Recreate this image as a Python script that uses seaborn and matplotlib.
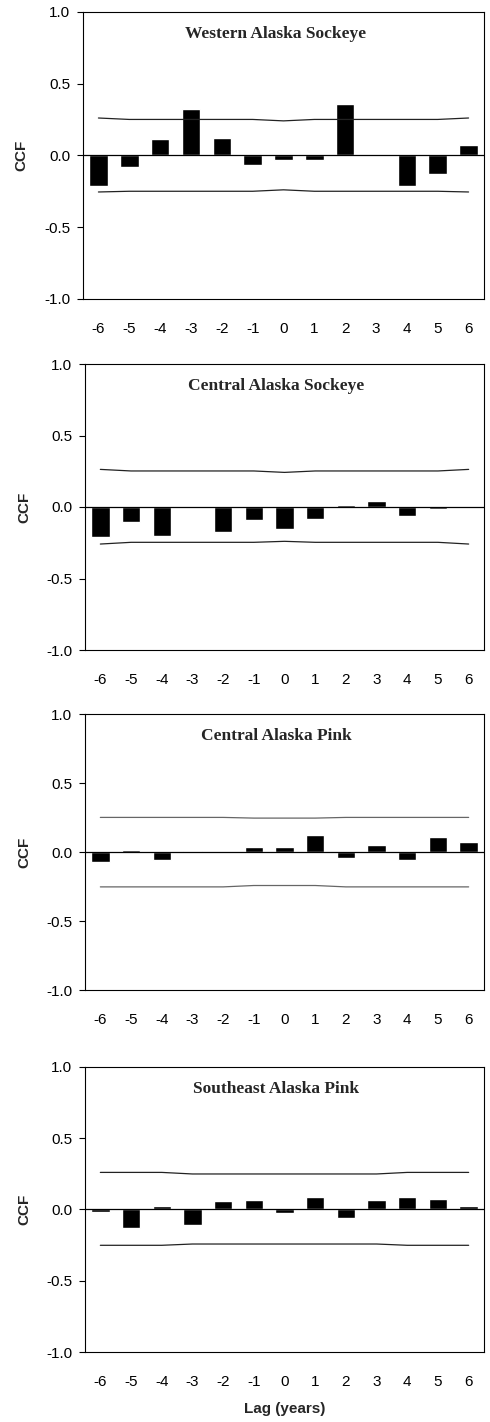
import numpy as np
import pandas as pd
import matplotlib
matplotlib.use("Agg")
import matplotlib.pyplot as plt
import seaborn as sns

lags = [-6, -5, -4, -3, -2, -1, 0, 1, 2, 3, 4, 5, 6]

titles = ["Western Alaska Sockeye", "Central Alaska Sockeye",
          "Central Alaska Pink", "Southeast Alaska Pink"]

ccf_western_sockeye = [-0.21, -0.08, 0.115, 0.32, 0.12, -0.065, -0.03, -0.03, 0.355, 0.0, -0.21, -0.13, 0.07]
ccf_central_sockeye = [-0.21, -0.105, -0.20, 0.0, -0.175, -0.09, -0.155, -0.085, 0.012, 0.04, -0.063, -0.012, 0.0]
ccf_central_pink = [-0.07, 0.017, -0.055, 0.01, 0.0, 0.039, 0.039, 0.125, -0.04, 0.053, -0.055, 0.11, 0.075]
ccf_southeast_pink = [-0.016, -0.128, 0.023, -0.11, 0.058, 0.065, -0.023, 0.086, -0.058, 0.065, 0.086, 0.072, 0.023]

upper_western_sockeye = [0.26, 0.25, 0.25, 0.25, 0.25, 0.25, 0.24, 0.25, 0.25, 0.25, 0.25, 0.25, 0.26]
lower_western_sockeye = [-0.255, -0.25, -0.25, -0.25, -0.25, -0.25, -0.24, -0.25, -0.25, -0.25, -0.25, -0.25, -0.255]
upper_central_sockeye = [0.263, 0.252, 0.252, 0.252, 0.252, 0.252, 0.242, 0.252, 0.252, 0.252, 0.252, 0.252, 0.263]
lower_central_sockeye = [-0.259, -0.247, -0.247, -0.247, -0.247, -0.247, -0.24, -0.247, -0.247, -0.247, -0.247, -0.247, -0.259]
upper_central_pink = [0.252, 0.252, 0.252, 0.252, 0.252, 0.247, 0.247, 0.247, 0.252, 0.252, 0.252, 0.252, 0.252]
lower_central_pink = [-0.252, -0.252, -0.252, -0.252, -0.252, -0.242, -0.242, -0.242, -0.252, -0.252, -0.252, -0.252, -0.252]
upper_southeast_pink = [0.259, 0.259, 0.259, 0.248, 0.248, 0.248, 0.248, 0.248, 0.248, 0.248, 0.259, 0.259, 0.259]
lower_southeast_pink = [-0.252, -0.252, -0.252, -0.243, -0.243, -0.243, -0.243, -0.243, -0.243, -0.243, -0.252, -0.252, -0.252]

y_ticks = [-1.0, -0.5, 0.0, 0.5, 1.0]
y_ticklabels = ["-1.0", "-0.5", "0.0", "0.5", "1.0"]

series = [
    (ccf_western_sockeye, upper_western_sockeye, lower_western_sockeye),
    (ccf_central_sockeye, upper_central_sockeye, lower_central_sockeye),
    (ccf_central_pink, upper_central_pink, lower_central_pink),
    (ccf_southeast_pink, upper_southeast_pink, lower_southeast_pink),
]

sns.set_style("white")
plt.rcParams['font.family'] = ['Liberation Sans', 'DejaVu Sans']

W, H = 490, 1422
fig = plt.figure(figsize=(W / 100, H / 100), dpi=100)

# panel boxes in pixels: (left, top, right, bottom)
boxes = [(83, 11.7, 484, 299), (85, 364, 484, 650), (85, 714.3, 484, 990), (85, 1066.7, 484, 1352)]
ci_colors = ["#222222", "#222222", "#666666", "#222222"]

for i, ((vals, up, lo), title, (l, t, r, b)) in enumerate(zip(series, titles, boxes)):
    ax = fig.add_axes([l / W, 1 - b / H, (r - l) / W, (b - t) / H])
    df = pd.DataFrame({"lag": lags, "ccf": vals})
    sns.barplot(data=df, x="lag", y="ccf", native_scale=True, width=0.6,
                color="black", saturation=1, ax=ax, errorbar=None)
    ax.plot(lags, up, color=ci_colors[i], lw=0.9)
    ax.plot(lags, lo, color=ci_colors[i], lw=0.9)
    ax.axhline(0, color="black", lw=0.9, zorder=1)
    ax.set_xlim(-6.5, 6.5)
    ax.set_ylim(-1.0, 1.0)
    ax.set_yticks(y_ticks)
    ax.set_yticklabels(y_ticklabels)
    ax.set_xticks(lags)
    ax.set_xticklabels([str(v) for v in lags])
    ax.tick_params(axis="y", direction="out", length=4.3, width=0.8, pad=5.0,
                   labelsize=11, colors="black", left=True)
    ax.tick_params(axis="x", length=0, pad=16.5, labelsize=11, colors="black")
    for s in ax.spines.values():
        s.set_color("black")
        s.set_linewidth(0.8)
    ax.set_ylabel("CCF", fontsize=11, fontweight="bold")
    ax.yaxis.set_label_coords(-0.135, 0.5)
    if i == 3:
        ax.set_xlabel("Lag (years)", fontsize=11, fontweight="bold")
        ax.xaxis.set_label_coords(0.5, -0.175)
    else:
        ax.set_xlabel("")
    ax.text(0.479, 0.923, title, transform=ax.transAxes, ha="center", va="center",
            fontsize=12.5, fontweight="bold", family=["Liberation Serif", "DejaVu Serif"])

fig.savefig("out.png", dpi=100)
